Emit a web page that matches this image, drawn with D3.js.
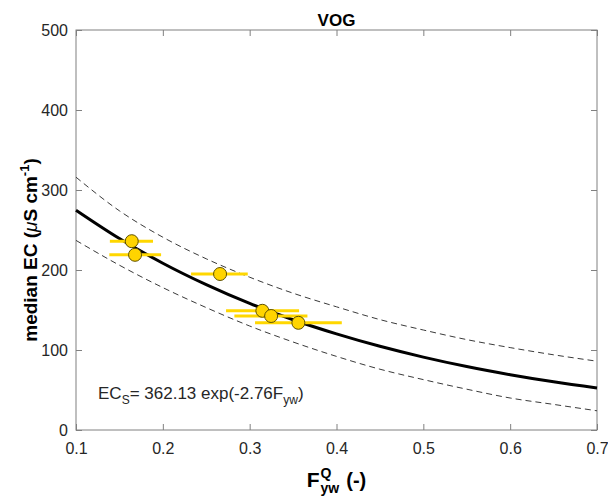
<!DOCTYPE html>
<html>
<head>
<meta charset="utf-8">
<script src="https://cdn.jsdelivr.net/npm/d3@7"></script>
<style>
  body { margin: 0; background: #fff; }
  svg { font-family: "Liberation Sans", Arial, sans-serif; }
</style>
</head>
<body>
<div id="wrapper"></div>
<script>
// observed points: F_yw (x), median EC (y), and x range of the horizontal bars
const pointX = [0.1642, 0.168, 0.2659, 0.3146, 0.3247, 0.3561];
const pointY = [236, 219, 195, 149, 142.5, 134];
const barLow = [0.139, 0.1384, 0.2325, 0.2728, 0.2824, 0.3062];
const barHigh = [0.1887, 0.198, 0.2978, 0.3569, 0.3665, 0.4061];

// fitted curve and bounds, read at these x values
const curveX = [0.1, 0.15, 0.2, 0.25, 0.3, 0.35, 0.4, 0.45, 0.5, 0.55, 0.6, 0.65, 0.7];
const fitY = [274.8, 239.4, 208.5, 181.7, 158.2, 137.8, 120.1, 104.6, 91.1, 79.3, 69.1, 60.2, 52.5];
const upperY = [316, 274, 241, 214, 191, 171, 154, 138, 125, 113, 103, 94, 86];
const lowerY = [237, 206, 178, 153, 130, 110, 92, 76, 63, 51, 40, 32, 24];

const xTicks = [0.1, 0.2, 0.3, 0.4, 0.5, 0.6, 0.7];
const yTicks = [0, 100, 200, 300, 400, 500];

function buildPlot() {
    const dimension = {
        width: 608,
        height: 497,
        margin: { top: 30, left: 76, bottom: 67, right: 11 }
    };
    dimension.boundedWidth = dimension.width - dimension.margin.left - dimension.margin.right;
    dimension.boundedHeight = dimension.height - dimension.margin.top - dimension.margin.bottom;

    const svg = d3.select("#wrapper").append("svg")
        .attr("width", dimension.width)
        .attr("height", dimension.height);

    const bounded = svg.append("g")
        .attr("transform", `translate(${dimension.margin.left},${dimension.margin.top})`);

    const xScaler = d3.scaleLinear().domain([0.1, 0.7]).range([0, dimension.boundedWidth]);
    const yScaler = d3.scaleLinear().domain([0, 500]).range([dimension.boundedHeight, 0]);

    const axisColor = "#808080";
    const textColor = "#262626";

    // axes, ticks inside on all four sides
    const styleAxis = (g) => {
        g.select(".domain").remove();
        g.selectAll(".tick line").attr("stroke", axisColor);
        g.selectAll(".tick text").attr("fill", textColor).attr("font-size", 16);
    };

    bounded.append("g")
        .attr("transform", `translate(0,${dimension.boundedHeight})`)
        .call(d3.axisBottom(xScaler).tickValues(xTicks).tickSize(-6).tickPadding(13)
            .tickFormat(d3.format(".1f")))
        .call(styleAxis);
    bounded.append("g")
        .call(d3.axisTop(xScaler).tickValues(xTicks).tickSize(-6).tickFormat(""))
        .call(styleAxis);
    bounded.append("g")
        .call(d3.axisLeft(yScaler).tickValues(yTicks).tickSize(-6).tickPadding(8))
        .call(styleAxis);
    bounded.append("g")
        .attr("transform", `translate(${dimension.boundedWidth},0)`)
        .call(d3.axisRight(yScaler).tickValues(yTicks).tickSize(-6).tickFormat(""))
        .call(styleAxis);

    bounded.append("rect")
        .attr("x", 0).attr("y", 0)
        .attr("width", dimension.boundedWidth)
        .attr("height", dimension.boundedHeight)
        .attr("fill", "none")
        .attr("stroke", axisColor);

    // lines
    const lineGenerator = (ys) => d3.line()
        .x((d, i) => xScaler(curveX[i]))
        .y((d) => yScaler(d))
        .curve(d3.curveMonotoneX)(ys);

    bounded.append("path")
        .attr("d", lineGenerator(upperY))
        .attr("fill", "none")
        .attr("stroke", "#3a3a3a")
        .attr("stroke-width", 1)
        .attr("stroke-dasharray", "6,4");
    bounded.append("path")
        .attr("d", lineGenerator(lowerY))
        .attr("fill", "none")
        .attr("stroke", "#3a3a3a")
        .attr("stroke-width", 1)
        .attr("stroke-dasharray", "6,4");
    bounded.append("path")
        .attr("d", lineGenerator(fitY))
        .attr("fill", "none")
        .attr("stroke", "black")
        .attr("stroke-width", 3);

    // horizontal bars
    bounded.selectAll(".bar")
        .data(pointX)
        .join("line")
        .attr("class", "bar")
        .attr("x1", (d, i) => xScaler(barLow[i]))
        .attr("x2", (d, i) => xScaler(barHigh[i]))
        .attr("y1", (d, i) => yScaler(pointY[i]))
        .attr("y2", (d, i) => yScaler(pointY[i]))
        .attr("stroke", "#FFD700")
        .attr("stroke-width", 3);

    // points
    bounded.selectAll(".pt")
        .data(pointX)
        .join("circle")
        .attr("class", "pt")
        .attr("cx", (d) => xScaler(d))
        .attr("cy", (d, i) => yScaler(pointY[i]))
        .attr("r", 6.5)
        .attr("fill", "#FFD400")
        .attr("stroke", "#5e5000")
        .attr("stroke-width", 1);

    // equation
    const eq = svg.append("text")
        .attr("x", 98).attr("y", 399)
        .attr("font-size", 17)
        .attr("fill", textColor);
    eq.append("tspan").text("EC");
    eq.append("tspan").attr("dy", 5).attr("font-size", 12).text("S");
    eq.append("tspan").attr("dy", -5).text("= 362.13 exp(-2.76F");
    eq.append("tspan").attr("dy", 5).attr("font-size", 12).text("yw");
    eq.append("tspan").attr("dy", -5).text(")");

    // title
    svg.append("text")
        .attr("x", dimension.margin.left + dimension.boundedWidth / 2)
        .attr("y", 26)
        .attr("text-anchor", "middle")
        .attr("font-size", 17)
        .attr("font-weight", "bold")
        .attr("fill", "black")
        .text("VOG");

    // y label
    const yLabel = svg.append("text")
        .attr("transform", "translate(37,250) rotate(-90)")
        .attr("text-anchor", "middle")
        .attr("font-size", 19)
        .attr("font-weight", "bold")
        .attr("fill", "black");
    yLabel.append("tspan").text("median EC (");
    yLabel.append("tspan").attr("font-style", "italic").attr("font-weight", "normal").text("\u03bc");
    yLabel.append("tspan").text("S cm");
    yLabel.append("tspan").attr("dy", -8).attr("font-size", 13).text("-1");
    yLabel.append("tspan").attr("dy", 8).text(")");

    // x label: F with superscript Q and subscript yw
    const xLabel = svg.append("g").attr("font-weight", "bold").attr("fill", "black");
    const f = xLabel.append("text").attr("x", 0).attr("y", 0).attr("font-size", 21).text("F");
    const wF = f.node().getComputedTextLength();
    const q = xLabel.append("text").attr("x", wF + 1).attr("y", -9).attr("font-size", 14).text("Q");
    const yw = xLabel.append("text").attr("x", wF + 1).attr("y", 6).attr("font-size", 14).text("yw");
    const wSub = Math.max(q.node().getComputedTextLength(), yw.node().getComputedTextLength());
    const rest = xLabel.append("text").attr("x", wF + 8 + wSub).attr("y", 0).attr("font-size", 20).text("(-)");
    const total = wF + 8 + wSub + rest.node().getComputedTextLength();
    xLabel.attr("transform",
        `translate(${dimension.margin.left + dimension.boundedWidth / 2 - total / 2},487)`);
}

buildPlot();
</script>
</body>
</html>
